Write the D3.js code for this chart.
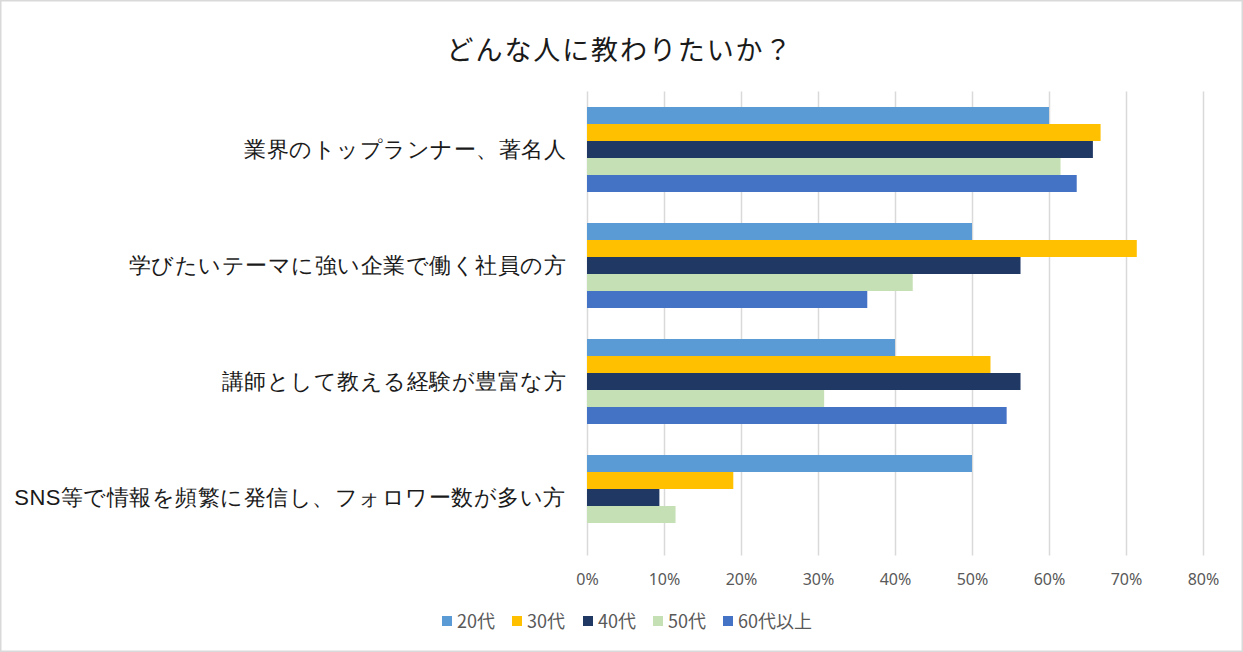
<!DOCTYPE html>
<html>
<head>
<meta charset="utf-8">
<script src="https://cdn.jsdelivr.net/npm/d3@7"></script>
<style>
  html, body { margin: 0; padding: 0; background: #fff; }
  svg { display: block; font-family: "Noto Sans CJK JP", "Noto Sans", sans-serif; }
</style>
</head>
<body>
<div id="chart"></div>
<script>
const categories = [
  '業界のトップランナー、著名人',
  '学びたいテーマに強い企業で働く社員の方',
  '講師として教える経験が豊富な方',
  'SNS等で情報を頻繁に発信し、フォロワー数が多い方'
]

const seriesNames = ['20代', '30代', '40代', '50代', '60代以上']
const seriesColors = ['#5B9BD5', '#FFC000', '#203864', '#C5E0B4', '#4472C4']

// values per series, same order as categories
const v20 = [0.600, 0.500, 0.400, 0.500]
const v30 = [0.667, 0.714, 0.524, 0.190]
const v40 = [0.657, 0.563, 0.563, 0.094]
const v50 = [0.615, 0.423, 0.308, 0.115]
const v60 = [0.636, 0.364, 0.545, 0]

const tickValues = [0, 0.1, 0.2, 0.3, 0.4, 0.5, 0.6, 0.7, 0.8]

const title = 'どんな人に教わりたいか？'

const width = 1243
const height = 652
const plot = { left: 587, right: 1203, top: 91.5, bottom: 555.5 }

const allValues = [v20, v30, v40, v50, v60]
const rows = categories.map((c, i) => ({
  category: c,
  values: seriesNames.map((s, j) => ({ series: s, value: allValues[j][i], color: seriesColors[j] }))
}))

const svg = d3.select('#chart')
  .append('svg')
  .attr('width', width)
  .attr('height', height)

svg.append('rect')
  .attr('x', 0.75).attr('y', 0.75)
  .attr('width', width - 1.5).attr('height', height - 1.5)
  .attr('fill', '#fff')
  .attr('stroke', '#d9d9d9')
  .attr('stroke-width', 1.5)

svg.append('text')
  .attr('x', 620)
  .attr('y', 60)
  .attr('text-anchor', 'middle')
  .attr('font-size', 27)
  .attr('letter-spacing', 1.9)
  .attr('fill', '#1a1a1a')
  .text(title)

const x = d3.scaleLinear()
  .domain([0, 0.8])
  .range([plot.left, plot.right])

const y = d3.scaleBand()
  .domain(categories)
  .range([plot.top, plot.bottom])
  .paddingInner(31 / 116)
  .paddingOuter(31 / 232)

const ySub = d3.scaleBand()
  .domain(seriesNames)
  .range([0, y.bandwidth()])

// gridlines
const grid = svg.append('g')
  .attr('transform', `translate(0,${plot.bottom})`)
  .call(d3.axisBottom(x).tickValues(tickValues).tickSize(-(plot.bottom - plot.top)).tickFormat(''))

grid.select('.domain').remove()
grid.selectAll('line').attr('stroke', '#d9d9d9').attr('stroke-width', 1.5)

// bars
const groups = svg.append('g')
  .selectAll('g')
  .data(rows)
  .enter()
  .append('g')
  .attr('transform', d => `translate(0,${y(d.category)})`)

groups.selectAll('rect')
  .data(d => d.values)
  .enter()
  .append('rect')
  .attr('x', x(0))
  .attr('y', d => ySub(d.series))
  .attr('width', d => x(d.value) - x(0))
  .attr('height', ySub.bandwidth())
  .attr('fill', d => d.color)

// x axis labels
const xAxis = svg.append('g')
  .attr('transform', `translate(0,${plot.bottom})`)
  .call(d3.axisBottom(x).tickValues(tickValues).tickSize(0).tickFormat(d3.format('.0%')))

xAxis.select('.domain').remove()
xAxis.selectAll('text')
  .attr('y', 29)
  .attr('dy', 0)
  .attr('font-size', 16)
  .attr('fill', '#595959')
  .style('font-family', '"Noto Sans", "Noto Sans CJK JP", sans-serif')

// category labels
const yAxis = svg.append('g')
  .attr('transform', `translate(${plot.left},0)`)
  .call(d3.axisLeft(y).tickSize(0).tickPadding(21))

yAxis.select('.domain').remove()
yAxis.selectAll('text')
  .attr('font-size', 22)
  .attr('letter-spacing', 0.5)
  .attr('fill', '#1a1a1a')
  .attr('dy', '0.32em')

// legend
const legendX = [442, 512, 583, 653, 723]
const legend = svg.append('g')
  .selectAll('g')
  .data(seriesNames)
  .enter()
  .append('g')
  .attr('transform', (d, i) => `translate(${legendX[i]},616)`)

legend.append('rect')
  .attr('width', 10)
  .attr('height', 10)
  .attr('fill', (d, i) => seriesColors[i])

legend.append('text')
  .attr('x', 15)
  .attr('y', 12)
  .attr('font-size', 18)
  .attr('fill', '#595959')
  .text(d => d)
</script>
</body>
</html>
